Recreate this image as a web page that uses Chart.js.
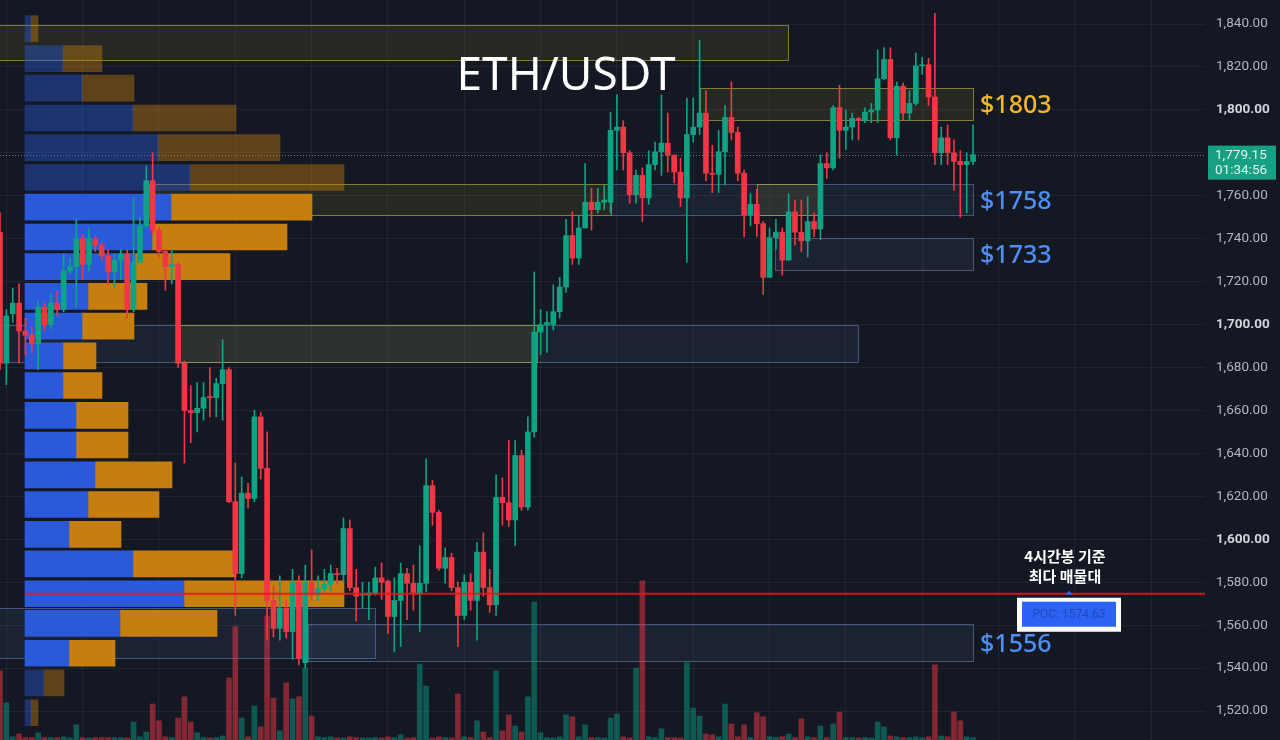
<!DOCTYPE html>
<html>
<head>
<meta charset="utf-8">
<script src="https://cdn.jsdelivr.net/npm/chart.js@4.4.1/dist/chart.umd.min.js"></script>
<style>
  html, body { margin: 0; padding: 0; background: #141823; }
  canvas { display: block; }
</style>
</head>
<body>
<canvas id="chart" width="1280" height="740"></canvas>
<script>
// 4시간봉 OHLC
const opens = [1743,1682,1705,1710,1697,1695,1691,1708,1700,1710,1707,1725,1727,1740,1728,1740,1737,1732,1724.5,1730,
  1733,1707,1729,1746,1767,1744,1734,1727,1728,1682,1660,1659,1661,1666.5,1666,1672.5,1679,1617.5,1584,1621.5,
  1619,1657,1633,1571.5,1558.5,1568,1557,1580,1542.5,1580,1574,1577,1579,1584,1583.5,1605,1577.5,1574,1574,1575,
  1582,1580.5,1564,1571.5,1584,1579.5,1574.5,1579.5,1625,1612.5,1586.5,1591.5,1577.5,1564.5,1580,1571.5,1594,1577.5,1569.5,1619.5,
  1617,1609,1639,1615,1650,1696.5,1700,1700,1706,1717.5,1741.5,1731,1745,1757,1753.5,1757,1757,1790.5,1792,1780,
  1760.5,1769.5,1759,1774.5,1780.5,1784.5,1779,1771,1759,1788.5,1792,1798.5,1770.5,1770,1780.5,1796.5,1789.5,1770.5,1751,1756,
  1747,1722,1740.5,1743,1730,1752.5,1743,1739,1748,1744.5,1775,1773,1801,1790.5,1792,1796,1795,1799,1800,1814.5,
  1823.5,1787,1811,1798.5,1803,1820.5,1821,1806,1780,1787,1780,1776,1774.5,1776];
const highs = [1752,1707,1717,1719,1703,1699,1711,1710,1714,1716,1733,1731,1749,1742,1745,1741,1738.5,1735,1733,1735,
  1735,1759,1750,1774,1780,1745.5,1735,1735,1729,1683,1671.5,1673,1673,1680,1675,1693,1680,1635.5,1629,1626,
  1660,1659,1650,1578.5,1583,1571.5,1586,1583,1588,1595,1583,1586,1588,1586.5,1610,1609,1586,1580,1580,1587,
  1589,1581,1582,1589,1586.5,1588,1597,1637.5,1627.5,1613.5,1596,1593.5,1580,1583.5,1584,1598.5,1603,1586,1630,1628.5,
  1646,1646,1641.5,1657,1724.5,1707,1706,1718.5,1722,1749,1752.5,1751,1775,1763.5,1763.5,1765,1799,1807,1795,1781,
  1772,1773,1781,1785,1807,1798.5,1779,1777.5,1805.5,1805.5,1832.5,1809,1783.5,1790.5,1802,1813,1792,1772,1761,1763,
  1748,1745,1749,1745,1761,1758,1758,1759.5,1752,1779,1780,1802,1811.5,1800,1798.5,1796.5,1801,1803,1828,1829,
  1829,1813,1812.5,1809,1826.5,1824.5,1824,1845,1792,1793,1786,1781,1780,1793];
const lows = [1679,1672,1701,1682,1686,1687,1679,1697,1698,1704,1706,1724,1708,1721,1725,1734,1730,1718.5,1717.5,1721,
  1703,1706,1729,1745,1742,1731.5,1716,1719,1680,1635.5,1645,1650,1655.5,1657,1657,1655.5,1617,1564.5,1582,1614.5,
  1617.5,1628,1553,1554.5,1553,1554,1544,1541.5,1540,1571.5,1571.5,1575.5,1576,1579,1580,1576,1562,1568,1562.5,1574,
  1572,1556,1547.5,1550,1562.5,1567,1557,1575.5,1606.5,1585.5,1579.5,1576,1550,1562.5,1567,1553,1573.5,1566,1564.5,1606.5,
  1606,1597,1613.5,1613.5,1647.5,1686,1687,1697.5,1703,1715,1728,1728,1745,1744,1752,1753.5,1752,1772,1772,1756.5,
  1756.5,1748,1756,1772,1769.5,1771,1766,1755,1729,1785,1788.5,1767,1761.5,1761.5,1765,1786,1767,1741,1746,1741,
  1714,1722,1735,1723,1730,1737,1734,1731.5,1741,1739.5,1768,1772,1777.5,1781.5,1786,1786,1794,1794,1794,1814,
  1786,1779,1795,1795,1802,1816.5,1802,1774.5,1774.5,1774.5,1762.5,1750,1752,1774.5];
const closes = [1682,1704,1710,1697,1695,1691,1708,1700,1710,1707,1725,1727,1740,1728,1740,1737,1732,1724.5,1730,1733,
  1707,1729,1746,1767,1744,1734,1727,1728,1682,1660,1659,1661,1666,1666,1672.5,1679,1617.5,1584,1621.5,1619,
  1657,1633,1571.5,1558.5,1568,1557,1580,1544.5,1580,1574,1577,1579,1584,1583.5,1605,1577.5,1573.5,1574.5,1575,1582,
  1580,1564,1571.5,1584,1579.5,1574.5,1579.5,1625,1612.5,1586.5,1591.5,1577.5,1564.5,1580,1571.5,1594,1577.5,1569.5,1619.5,1617,
  1609,1639,1615,1650,1696.5,1700,1701,1706,1717.5,1741.5,1731,1745,1757,1753.5,1757,1758,1790.5,1792,1780,1760.5,
  1769.5,1759,1774.5,1780.5,1784.5,1779,1771,1759,1788.5,1792,1798.5,1770.5,1770,1780.5,1796.5,1789.5,1770.5,1751,1756,1747,
  1722,1740.5,1743,1730,1752.5,1743,1739,1748,1744.5,1775,1773,1801,1790.5,1792,1796,1795,1799,1800,1814.5,1823.5,
  1787,1811,1798.5,1803,1820.5,1821,1806,1780,1787,1780,1776,1774.5,1776,1779.15];
const volumes = [17.3,9.3,0.8,1.5,0.6,0.6,1.8,0.6,0.6,0.6,0.8,0.5,3.8,0.6,0.5,0.6,0.6,0.6,0.6,0.6,
  0.5,4.5,0.8,2,9,4.8,0.8,0.6,5.5,10.8,4.5,1.8,0.6,0.5,0.6,1,15.5,28.3,5.5,0.8,
  8.5,3.3,31,10.5,2.3,14.3,10.3,10.8,18,6,0.8,0.6,0.8,0.5,0.5,0.8,0.6,0.5,0.5,0.6,
  0.5,0.8,0.6,1.3,0.5,0.6,19,13.5,0.5,0.8,0.6,0.5,11.5,0.8,0.6,4.8,2,0.6,17.3,2.3,
  6.3,3.5,2,10.8,34.5,1.8,0.6,0.5,0.8,6.3,5.8,0.8,3.8,0.6,0.6,0.5,5.5,6.5,0.8,0.5,
  18,39.8,0.8,0.6,2.8,0.6,0.6,0.5,19.3,8,6,1.5,1.3,0.8,9,4,0.8,3.8,0.6,6.8,
  5.8,0.8,0.6,0.8,1.5,0.6,5.3,0.8,0.6,3.5,0.6,4,7,0.6,0.6,0.5,0.6,0.5,4.5,3.3,
  1,0.8,0.6,0.6,0.8,0.5,0.8,18.8,1,0.8,7,4.8,0.8,0.6];

const priceTicks = [1520,1540,1560,1580,1600,1620,1640,1660,1680,1700,1720,1740,1760,1780,1800,1820,1840];
const gridCandles = [1,13,25,37,49,61,73,85,97,109,121,133,145,157,169,181];

// 매물대 (아래 → 위)
const profileLevels = [1519.2,1533.1,1546.9,1560.8,1574.6,1588.5,1602.3,1616.2,1630.0,1643.9,1657.7,1671.6,
  1685.4,1699.3,1713.1,1727.0,1740.8,1754.7,1768.5,1782.4,1796.2,1810.1,1823.9,1837.8];
const profileBuy = [1.5,4.75,11,23.75,39.75,27,11,15.75,17.5,12.75,12.75,9.5,9.5,14.25,15.75,27.5,31.75,36.5,41.25,33.25,27,14.25,9.5,1.5];
const profileSell = [1.75,5,11.5,24.25,40,25.75,13,17.75,19.25,13,13,9.75,8.25,13,14.75,23.75,33.75,35.25,38.5,30.5,25.75,13,9.75,1.75];
const valueAreaLow = 1540, valueAreaHigh = 1762;
const pocPrice = 1574.63;

// 구간 박스
const zoneTop    = [1839.5,1810.2,1765.5,1765.5,1765.5,1740.3,1699.8,1699.8,1568.0,1560.5];
const zoneBottom = [1823.2,1795.3,1751.0,1751.0,1751.0,1725.4,1682.6,1682.6,1544.7,1543.3];
const zoneFrom   = [-1,110,23.5,96,119,121.9,-1,28.3,-1,48.4];
const zoneTo     = [123.9,153,96,153,128.6,153,134.9,84.4,59,153];
const zoneKind   = ['supply','supply','supply','demand','supply','demand','demand','supply','demand','demand'];
const zoneLabels = ['', '$1803', '', '$1758', '', '$1733', '', '', '', '$1556'];

const UP = '#0ea383', DOWN = '#f23645';
const lastPrice = closes[closes.length - 1];
const candleColor = i => closes[i] >= opens[i] ? UP : DOWN;
const isRound = c => !!(c.tick && c.tick.value % 100 === 0);
const noPad = s => { s.paddingTop = 0; s.paddingBottom = 0; s.paddingLeft = 0; s.paddingRight = 0; };

const overlay = {
  id: 'overlay',
  beforeDatasetsDraw(chart) {
    const { ctx, chartArea, scales } = chart;
    const x = scales.x, y = scales.y;
    ctx.save();
    zoneTop.forEach((top, k) => {
      const x0 = Math.round(x.getPixelForValue(zoneFrom[k])) + 0.5;
      const x1 = Math.round(x.getPixelForValue(zoneTo[k])) + 0.5;
      const y0 = Math.round(y.getPixelForValue(top)) + 0.5;
      const y1 = Math.round(y.getPixelForValue(zoneBottom[k])) + 0.5;
      const supply = zoneKind[k] === 'supply';
      ctx.fillStyle = supply ? 'rgba(150,140,40,0.14)' : 'rgba(95,125,185,0.10)';
      ctx.fillRect(x0, y0, x1 - x0, y1 - y0);
      ctx.strokeStyle = supply ? 'rgba(175,165,65,0.7)' : 'rgba(110,135,180,0.55)';
      ctx.lineWidth = 1;
      ctx.strokeRect(x0, y0, x1 - x0, y1 - y0);
    });
    // 현재가 점선
    const ly = Math.round(y.getPixelForValue(lastPrice)) + 0.5;
    ctx.strokeStyle = 'rgba(150,155,170,0.75)';
    ctx.setLineDash([1, 2]);
    ctx.beginPath();
    ctx.moveTo(chartArea.left, ly);
    ctx.lineTo(chartArea.right, ly);
    ctx.stroke();
    ctx.restore();
  },
  afterDatasetsDraw(chart) {
    const { ctx, chartArea, scales } = chart;
    const x = scales.x, y = scales.y;
    ctx.save();

    // POC 라인
    const py = y.getPixelForValue(pocPrice);
    ctx.strokeStyle = 'rgba(232,22,26,0.88)';
    ctx.lineWidth = 2;
    ctx.beginPath();
    ctx.moveTo(scales.xp.getPixelForValue(0), py);
    ctx.lineTo(chartArea.right, py);
    ctx.stroke();

    // 구간 가격 라벨
    ctx.font = '500 25px "Noto Sans"';
    ctx.textAlign = 'left';
    ctx.textBaseline = 'alphabetic';
    zoneLabels.forEach((label, k) => {
      if (!label) return;
      const cy = (y.getPixelForValue(zoneTop[k]) + y.getPixelForValue(zoneBottom[k])) / 2;
      ctx.fillStyle = zoneKind[k] === 'supply' ? '#f2b82c' : '#4d8ff2';
      ctx.fillText(label, x.getPixelForValue(zoneTo[k]) + 7, cy + 9);
    });

    // 제목
    ctx.fillStyle = '#ffffff';
    ctx.font = '46px "Noto Sans"';
    ctx.textAlign = 'center';
    ctx.fillText('ETH/USDT', 566, 90);

    // POC 설명
    const bx = chartArea.right - 136;
    ctx.font = 'bold 15px "Noto Sans CJK KR"';
    ctx.textBaseline = 'middle';
    ctx.fillText('4시간봉 기준', bx - 4, py - 37);
    ctx.fillText('최다 매물대', bx - 4, py - 17);
    ctx.fillStyle = '#ffffff';
    ctx.fillRect(bx - 52, py + 4, 104, 34);
    ctx.fillStyle = '#2c63f4';
    ctx.fillRect(bx - 47, py + 8, 94, 25);
    ctx.fillStyle = '#2048b8';
    ctx.font = '12px Roboto';
    ctx.fillText('POC: ' + pocPrice.toFixed(2), bx, py + 21);
    ctx.fillStyle = '#2c63f4';
    ctx.beginPath();
    ctx.moveTo(bx - 4, py + 1);
    ctx.lineTo(bx + 4, py + 1);
    ctx.lineTo(bx, py - 3);
    ctx.fill();

    // 현재가 태그
    const ly = y.getPixelForValue(lastPrice);
    ctx.fillStyle = '#17a084';
    ctx.fillRect(chartArea.right + 3, ly - 9, 68, 34);
    ctx.fillStyle = '#dff5ee';
    ctx.font = '13.5px Roboto';
    ctx.textAlign = 'left';
    ctx.fillText(lastPrice.toLocaleString('en-US', { minimumFractionDigits: 2 }), chartArea.right + 10, ly + 1);
    ctx.fillText('01:34:56', chartArea.right + 10, ly + 16);
    ctx.restore();
  }
};

const ctx = document.getElementById('chart').getContext('2d');
new Chart(ctx, {
  type: 'bar',
  data: {
    datasets: [
      {
        label: 'volume',
        xAxisID: 'x', yAxisID: 'yv',
        data: volumes.map((v, i) => ({ x: i, y: v })),
        backgroundColor: c => closes[c.dataIndex] >= opens[c.dataIndex] ? 'rgba(8,153,129,0.5)' : 'rgba(242,54,69,0.5)',
        barThickness: 5, maxBarThickness: 5, grouped: false, order: 5
      },
      {
        label: 'buy',
        indexAxis: 'y', xAxisID: 'xp', yAxisID: 'yp',
        data: profileLevels.map((p, k) => ({ y: p, x: [0, profileBuy[k]] })),
        backgroundColor: c => {
          const p = profileLevels[c.dataIndex];
          return p > valueAreaLow && p < valueAreaHigh ? '#2a5ad9' : 'rgba(42,90,217,0.42)';
        },
        barThickness: 26, maxBarThickness: 26, grouped: false, order: 4
      },
      {
        label: 'sell',
        indexAxis: 'y', xAxisID: 'xp', yAxisID: 'yp',
        data: profileLevels.map((p, k) => ({ y: p, x: [profileBuy[k], profileBuy[k] + profileSell[k]] })),
        backgroundColor: c => {
          const p = profileLevels[c.dataIndex];
          return p > valueAreaLow && p < valueAreaHigh ? '#c67f0e' : 'rgba(198,127,14,0.42)';
        },
        barThickness: 26, maxBarThickness: 26, grouped: false, order: 4
      },
      {
        label: 'wick',
        xAxisID: 'x', yAxisID: 'y',
        data: highs.map((h, i) => ({ x: i, y: [lows[i], h] })),
        backgroundColor: c => candleColor(c.dataIndex),
        barThickness: 1, maxBarThickness: 1, grouped: false, order: 2
      },
      {
        label: 'body',
        xAxisID: 'x', yAxisID: 'y',
        data: opens.map((o, i) => ({ x: i, y: [o, closes[i]] })),
        backgroundColor: c => candleColor(c.dataIndex),
        barThickness: 5, maxBarThickness: 5, minBarLength: 1, grouped: false, order: 1
      }
    ]
  },
  options: {
    responsive: false,
    animation: false,
    events: [],
    layout: { padding: 0 },
    plugins: { legend: { display: false }, tooltip: { enabled: false } },
    scales: {
      x: {
        type: 'linear', position: 'bottom', min: 0, max: 189.47, offset: false,
        grid: { color: 'rgba(255,255,255,0.055)', drawTicks: false, offset: false },
        border: { display: false },
        ticks: { display: false },
        afterBuildTicks: s => { s.ticks = gridCandles.map(v => ({ value: v })); },
        afterFit: s => { s.height = 0; noPad(s); }
      },
      xp: {
        type: 'linear', axis: 'x', position: 'bottom', display: false, min: -6.25, max: 295,
        offset: false, grid: { offset: false }, afterFit: noPad
      },
      y: {
        type: 'linear', position: 'right', min: 1506.5, max: 1851.18, offset: false,
        grid: { color: 'rgba(255,255,255,0.055)', drawTicks: false, offset: false },
        border: { display: false },
        ticks: {
          padding: 11,
          color: c => isRound(c) ? '#d1d4dc' : '#b2b5be',
          font: c => ({ family: 'Roboto', size: 13.5, weight: isRound(c) ? 'bold' : 'normal' }),
          callback: v => v.toLocaleString('en-US', { minimumFractionDigits: 2, maximumFractionDigits: 2 })
        },
        afterBuildTicks: s => { s.ticks = priceTicks.map(v => ({ value: v })); },
        afterFit: s => { s.width = 75; noPad(s); }
      },
      yp: {
        type: 'linear', axis: 'y', position: 'right', display: false, min: 1506.5, max: 1851.18,
        offset: false, grid: { offset: false }, afterFit: noPad,
        afterBuildTicks: s => { s.ticks = profileLevels.map(v => ({ value: v })); }
      },
      yv: {
        type: 'linear', axis: 'y', position: 'right', display: false, min: 0, max: 185,
        offset: false, afterFit: noPad
      }
    }
  },
  plugins: [overlay]
});
</script>
</body>
</html>
